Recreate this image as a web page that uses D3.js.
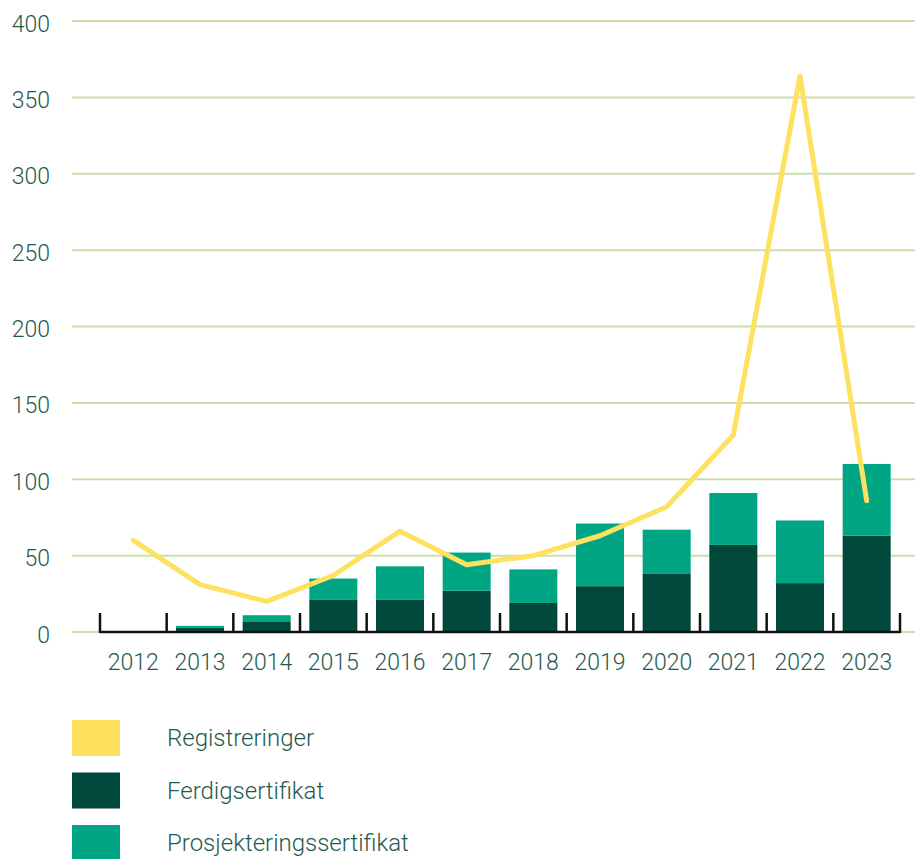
<!DOCTYPE html>
<html>
<head>
<meta charset="utf-8">
<script src="https://cdn.jsdelivr.net/npm/d3@7"></script>
<style>
  body { margin: 0; background: #fff; }
  svg text { font-family: Roboto, "Noto Sans", sans-serif; font-weight: 300; fill: #1f5a4e; }
</style>
</head>
<body>
<svg id="chart" width="915" height="859"></svg>
<script>
var years = ["2012", "2013", "2014", "2015", "2016", "2017",
	     "2018", "2019", "2020", "2021", "2022", "2023"];
var ferdig = [0, 3, 7, 21, 21, 27, 19, 30, 38, 57, 32, 63];
var prosjektering = [0, 1, 4, 14, 22, 25, 22, 41, 29, 34, 41, 47];
var registreringer = [60, 31, 20, 37, 66, 44, 50, 63, 82, 129, 364, 86];
var yTicks = [0, 50, 100, 150, 200, 250, 300, 350, 400];

var legendItems = [
    {label: "Registreringer", color: "#fee15f"},
    {label: "Ferdigsertifikat", color: "#00473c"},
    {label: "Prosjekteringssertifikat", color: "#00a684"}
];

function drawChart() {
    var svg = d3.select("#chart");
    var x = d3.scaleBand().range([100, 900])
	.domain(years)
	.paddingInner(0.28)
	.paddingOuter(0.14);
    var y = d3.scaleLinear().range([632, 21])
	.domain([0, 400]);

    // gridlines
    svg.append("g")
	.selectAll("line")
	.data(yTicks)
	.enter().append("line")
	.attr("x1", 72)
	.attr("x2", 915)
	.attr("y1", d => y(d))
	.attr("y2", d => y(d))
	.style("stroke", "#c9e1a9")
	.style("stroke-width", 2);

    // y labels
    svg.append("g")
	.selectAll("text")
	.data(yTicks)
	.enter().append("text")
	.attr("x", 50)
	.attr("y", d => y(d) + 3)
	.attr("text-anchor", "end")
	.attr("dominant-baseline", "central")
	.style("font-size", "23px")
	.text(d => d);

    // stacked bars
    var rows = years.map(function(yr, i) {
	return {year: yr, ferdig: ferdig[i], prosjektering: prosjektering[i]};
    });
    var stack = d3.stack().keys(["ferdig", "prosjektering"])(rows);
    var barColors = {ferdig: "#00473c", prosjektering: "#00a684"};

    svg.append("g")
	.selectAll("g")
	.data(stack)
	.enter().append("g")
	.style("fill", d => barColors[d.key])
	.selectAll("rect")
	.data(d => d)
	.enter().append("rect")
	.attr("x", d => x(d.data.year))
	.attr("y", d => y(d[1]))
	.attr("width", x.bandwidth())
	.attr("height", d => y(d[0]) - y(d[1]));

    // x axis
    var axis = svg.append("g");
    axis.append("line")
	.attr("x1", x.range()[0])
	.attr("x2", x.range()[1])
	.attr("y1", y(0))
	.attr("y2", y(0))
	.style("stroke", "#111")
	.style("stroke-width", 2.5);
    var step = x.step();
    var bounds = years.map(d => x(d) - step * x.paddingInner() / 2);
    bounds[0] = x.range()[0];
    bounds.push(x.range()[1]);
    axis.selectAll(".tick")
	.data(bounds)
	.enter().append("line")
	.attr("class", "tick")
	.attr("x1", d => d)
	.attr("x2", d => d)
	.attr("y1", y(0) + 1)
	.attr("y2", y(0) - 19)
	.style("stroke", "#111")
	.style("stroke-width", 2.5);
    axis.selectAll(".yearlabel")
	.data(years)
	.enter().append("text")
	.attr("class", "yearlabel")
	.attr("x", d => x(d) + x.bandwidth() / 2)
	.attr("y", 662)
	.attr("text-anchor", "middle")
	.attr("dominant-baseline", "central")
	.style("font-size", "23px")
	.text(d => d);

    // line
    var line = d3.line()
	.x((d, i) => x(years[i]) + x.bandwidth() / 2)
	.y(d => y(d));
    svg.append("path")
	.datum(registreringer)
	.attr("d", line)
	.style("fill", "none")
	.style("stroke", "#fee15f")
	.style("stroke-width", 5)
	.style("stroke-linecap", "round")
	.style("stroke-linejoin", "round");

    // legend
    var leg = svg.append("g")
	.selectAll("g")
	.data(legendItems)
	.enter().append("g")
	.attr("transform", (d, i) => "translate(72," + (720 + i * 52.5) + ")");
    leg.append("rect")
	.attr("width", 48)
	.attr("height", 36)
	.style("fill", d => d.color);
    leg.append("text")
	.attr("x", 95)
	.attr("y", 18)
	.attr("dominant-baseline", "central")
	.style("font-size", "24px")
	.text(d => d.label);
}

drawChart();
</script>
</body>
</html>
